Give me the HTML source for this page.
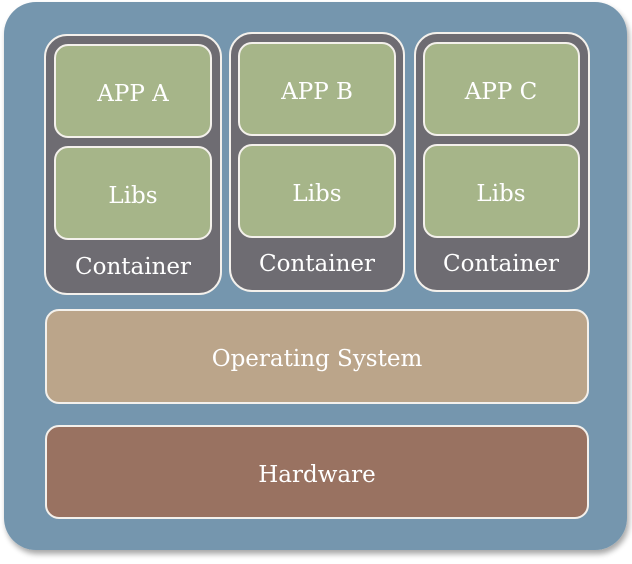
<!DOCTYPE html>
<html><head><meta charset="utf-8"><style>
html,body{margin:0;padding:0;background:#fff;width:632px;height:564px;overflow:hidden}
</style></head><body>
<svg width="632" height="564" xmlns="http://www.w3.org/2000/svg">
<defs><filter id="sh" x="-5%" y="-5%" width="115%" height="115%"><feGaussianBlur in="SourceAlpha" stdDeviation="3"/><feOffset dx="2" dy="4"/><feComponentTransfer><feFuncA type="linear" slope="0.35"/></feComponentTransfer><feMerge><feMergeNode/><feMergeNode in="SourceGraphic"/></feMerge></filter></defs>
<rect x="4" y="2" width="623" height="548" rx="32" fill="#7596ae" filter="url(#sh)"/>
<g stroke="#f4f1ec" stroke-width="2">
<rect x="45" y="35" width="176" height="259" rx="22" fill="#6e6c72"/>
<rect x="230" y="33" width="174" height="258" rx="22" fill="#6e6c72"/>
<rect x="415" y="33" width="174" height="258" rx="22" fill="#6e6c72"/>
<rect x="55" y="45" width="156" height="92" rx="13" fill="#a6b589"/>
<rect x="55" y="147" width="156" height="92" rx="13" fill="#a6b589"/>
<rect x="239" y="43" width="156" height="92" rx="13" fill="#a6b589"/>
<rect x="239" y="145" width="156" height="92" rx="13" fill="#a6b589"/>
<rect x="424" y="43" width="155" height="92" rx="13" fill="#a6b589"/>
<rect x="424" y="145" width="155" height="92" rx="13" fill="#a6b589"/>
<rect x="46" y="310" width="542" height="93" rx="13" fill="#bba58a"/>
<rect x="46" y="426" width="542" height="92" rx="13" fill="#997261"/>
</g>
<g font-family="DejaVu Serif, serif" font-size="23" fill="#fff" text-anchor="middle">
<text x="133" y="101">APP A</text>
<text x="133" y="203">Libs</text>
<text x="133" y="274">Container</text>
<text x="317" y="99">APP B</text>
<text x="317" y="201">Libs</text>
<text x="317" y="271">Container</text>
<text x="501" y="99">APP C</text>
<text x="501" y="201">Libs</text>
<text x="501" y="271">Container</text>
<text x="317" y="366">Operating System</text>
<text x="317" y="482">Hardware</text>
</g>
</svg>
</body></html>
